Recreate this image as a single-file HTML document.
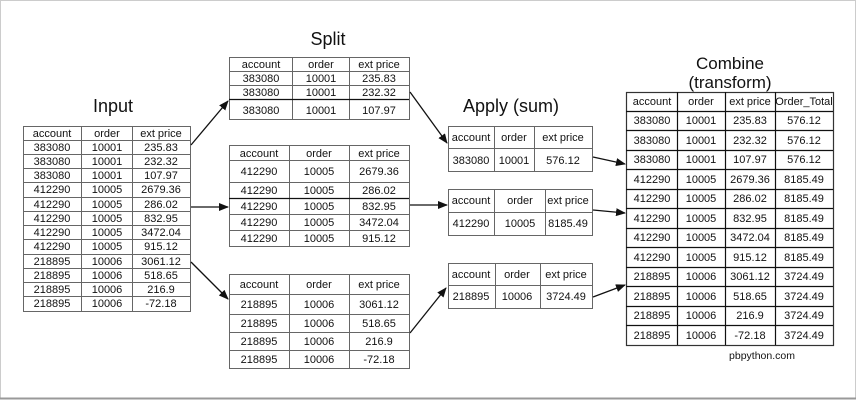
<!DOCTYPE html>
<html><head><meta charset="utf-8"><style>
html,body{margin:0;padding:0;background:#fff;}
svg{display:block;}
text{font-family:"Liberation Sans",sans-serif;font-size:11px;fill:#111;text-anchor:middle;}
.t{font-size:18px;}
.g{stroke:#666;stroke-width:1;fill:none;}
.k{stroke:#111;stroke-width:1.2;fill:none;}
</style></head><body>
<svg width="856" height="400" viewBox="0 0 856 400">
<defs><marker id="a" markerWidth="10" markerHeight="8" refX="9" refY="4" orient="auto" markerUnits="userSpaceOnUse"><path d="M0,0 L10,4 L0,8 z" fill="#111"/></marker></defs>
<rect x="0.5" y="0.5" width="855" height="398" fill="#fff" stroke="#ccc"/>
<line x1="0" y1="398.5" x2="856" y2="398.5" stroke="#999" stroke-width="2"/>

<text class="t" x="113" y="112">Input</text>
<text class="t" x="328" y="45">Split</text>
<text class="t" x="511" y="112">Apply (sum)</text>
<text class="t" x="730" y="69" style="font-size:17px">Combine</text>
<text class="t" x="730" y="88" style="font-size:17px">(transform)</text>
<text x="762" y="359" style="font-size:10.5px">pbpython.com</text>

<g>
<rect class="g" x="23.5" y="126.5" width="167" height="185"/>
<line class="g" x1="81.5" y1="126" x2="81.5" y2="311"/>
<line class="g" x1="132.5" y1="126" x2="132.5" y2="311"/>
<g class="g">
<line x1="23" y1="140.5" x2="190" y2="140.5"/><line x1="23" y1="154.5" x2="190" y2="154.5"/><line x1="23" y1="168.5" x2="190" y2="168.5"/><line x1="23" y1="182.5" x2="190" y2="182.5"/><line x1="23" y1="197.5" x2="190" y2="197.5"/><line x1="23" y1="211.5" x2="190" y2="211.5"/><line x1="23" y1="225.5" x2="190" y2="225.5"/><line x1="23" y1="239.5" x2="190" y2="239.5"/><line x1="23" y1="254.5" x2="190" y2="254.5"/><line x1="23" y1="268.5" x2="190" y2="268.5"/><line x1="23" y1="282.5" x2="190" y2="282.5"/><line x1="23" y1="296.5" x2="190" y2="296.5"/>
</g>
<g>
<text x="52" y="137">account</text><text x="107" y="137">order</text><text x="161" y="137">ext price</text>
<text x="52" y="151">383080</text><text x="107" y="151">10001</text><text x="161" y="151">235.83</text>
<text x="52" y="165">383080</text><text x="107" y="165">10001</text><text x="161" y="165">232.32</text>
<text x="52" y="179">383080</text><text x="107" y="179">10001</text><text x="161" y="179">107.97</text>
<text x="52" y="193">412290</text><text x="107" y="193">10005</text><text x="161" y="193">2679.36</text>
<text x="52" y="208">412290</text><text x="107" y="208">10005</text><text x="161" y="208">286.02</text>
<text x="52" y="222">412290</text><text x="107" y="222">10005</text><text x="161" y="222">832.95</text>
<text x="52" y="236">412290</text><text x="107" y="236">10005</text><text x="161" y="236">3472.04</text>
<text x="52" y="250">412290</text><text x="107" y="250">10005</text><text x="161" y="250">915.12</text>
<text x="52" y="265">218895</text><text x="107" y="265">10006</text><text x="161" y="265">3061.12</text>
<text x="52" y="279">218895</text><text x="107" y="279">10006</text><text x="161" y="279">518.65</text>
<text x="52" y="293">218895</text><text x="107" y="293">10006</text><text x="161" y="293">216.9</text>
<text x="52" y="307">218895</text><text x="107" y="307">10006</text><text x="161" y="307">-72.18</text>
</g></g>

<g>
<rect class="g" x="229.5" y="57.5" width="180" height="62"/>
<line class="g" x1="292.5" y1="57" x2="292.5" y2="119"/><line class="g" x1="349.5" y1="57" x2="349.5" y2="119"/>
<line class="g" x1="229" y1="71.5" x2="409" y2="71.5"/><line class="g" x1="229" y1="85.5" x2="409" y2="85.5"/><line class="k" x1="229" y1="99.5" x2="409" y2="99.5"/>
<text x="261" y="68">account</text><text x="321" y="68">order</text><text x="379" y="68">ext price</text>
<text x="261" y="82">383080</text><text x="321" y="82">10001</text><text x="379" y="82">235.83</text>
<text x="261" y="96">383080</text><text x="321" y="96">10001</text><text x="379" y="96">232.32</text>
<text x="261" y="114">383080</text><text x="321" y="114">10001</text><text x="379" y="114">107.97</text>
</g>

<g>
<rect class="g" x="229.5" y="145.5" width="180" height="101"/>
<line class="g" x1="289.5" y1="145" x2="289.5" y2="246"/><line class="g" x1="349.5" y1="145" x2="349.5" y2="246"/>
<line class="g" x1="229" y1="160.5" x2="409" y2="160.5"/><line class="g" x1="229" y1="182.5" x2="409" y2="182.5"/><line class="k" x1="229" y1="198.5" x2="409" y2="198.5"/><line class="g" x1="229" y1="214.5" x2="409" y2="214.5"/><line class="g" x1="229" y1="230.5" x2="409" y2="230.5"/>
<text x="259" y="157">account</text><text x="319" y="157">order</text><text x="379" y="157">ext price</text>
<text x="259" y="175">412290</text><text x="319" y="175">10005</text><text x="379" y="175">2679.36</text>
<text x="259" y="194">412290</text><text x="319" y="194">10005</text><text x="379" y="194">286.02</text>
<text x="259" y="210">412290</text><text x="319" y="210">10005</text><text x="379" y="210">832.95</text>
<text x="259" y="226">412290</text><text x="319" y="226">10005</text><text x="379" y="226">3472.04</text>
<text x="259" y="242">412290</text><text x="319" y="242">10005</text><text x="379" y="242">915.12</text>
</g>

<g>
<rect class="g" x="229.5" y="274.5" width="180" height="94"/>
<line class="g" x1="289.5" y1="274" x2="289.5" y2="368"/><line class="g" x1="349.5" y1="274" x2="349.5" y2="368"/>
<line class="g" x1="229" y1="294.5" x2="409" y2="294.5"/><line class="g" x1="229" y1="314.5" x2="409" y2="314.5"/><line class="g" x1="229" y1="332.5" x2="409" y2="332.5"/><line class="g" x1="229" y1="350.5" x2="409" y2="350.5"/>
<text x="259" y="288">account</text><text x="319" y="288">order</text><text x="379" y="288">ext price</text>
<text x="259" y="308">218895</text><text x="319" y="308">10006</text><text x="379" y="308">3061.12</text>
<text x="259" y="327">218895</text><text x="319" y="327">10006</text><text x="379" y="327">518.65</text>
<text x="259" y="345">218895</text><text x="319" y="345">10006</text><text x="379" y="345">216.9</text>
<text x="259" y="363">218895</text><text x="319" y="363">10006</text><text x="379" y="363">-72.18</text>
</g>

<g>
<rect class="g" x="448.5" y="126.5" width="144" height="45"/>
<line class="g" x1="494.5" y1="126" x2="494.5" y2="171"/><line class="g" x1="534.5" y1="126" x2="534.5" y2="171"/><line class="g" x1="448" y1="148.5" x2="592" y2="148.5"/>
<text x="471" y="141">account</text><text x="514" y="141">order</text><text x="563" y="141">ext price</text>
<text x="471" y="164">383080</text><text x="514" y="164">10001</text><text x="563" y="164">576.12</text>
</g>
<g>
<rect class="g" x="448.5" y="189.5" width="144" height="46"/>
<line class="g" x1="494.5" y1="189" x2="494.5" y2="235"/><line class="g" x1="545.5" y1="189" x2="545.5" y2="235"/><line class="g" x1="448" y1="212.5" x2="592" y2="212.5"/>
<text x="471" y="204">account</text><text x="520" y="204">order</text><text x="568" y="204">ext price</text>
<text x="471" y="227">412290</text><text x="520" y="227">10005</text><text x="568" y="227">8185.49</text>
</g>
<g>
<rect class="g" x="448.5" y="263.5" width="144" height="45"/>
<line class="g" x1="495.5" y1="263" x2="495.5" y2="308"/><line class="g" x1="540.5" y1="263" x2="540.5" y2="308"/><line class="g" x1="448" y1="285.5" x2="592" y2="285.5"/>
<text x="471" y="278">account</text><text x="517" y="278">order</text><text x="566" y="278">ext price</text>
<text x="471" y="300">218895</text><text x="517" y="300">10006</text><text x="566" y="300">3724.49</text>
</g>

<g>
<rect x="626.5" y="92.5" width="207" height="253" fill="none" stroke="#333" stroke-width="1.2"/>
<line class="k" x1="677.5" y1="92" x2="677.5" y2="345"/><line class="k" x1="725.5" y1="92" x2="725.5" y2="345"/><line class="k" x1="775.5" y1="92" x2="775.5" y2="345"/>
<g class="k">
<line x1="626" y1="111.5" x2="833" y2="111.5"/><line x1="626" y1="130.5" x2="833" y2="130.5"/><line x1="626" y1="150.5" x2="833" y2="150.5"/><line x1="626" y1="169.5" x2="833" y2="169.5"/><line x1="626" y1="189.5" x2="833" y2="189.5"/><line x1="626" y1="208.5" x2="833" y2="208.5"/><line x1="626" y1="228.5" x2="833" y2="228.5"/><line x1="626" y1="247.5" x2="833" y2="247.5"/><line x1="626" y1="267.5" x2="833" y2="267.5"/><line x1="626" y1="286.5" x2="833" y2="286.5"/><line x1="626" y1="306.5" x2="833" y2="306.5"/><line x1="626" y1="325.5" x2="833" y2="325.5"/>
</g>
<text x="652" y="105">account</text><text x="701" y="105">order</text><text x="750" y="105">ext price</text><text x="804" y="105">Order_Total</text>
<text x="652" y="124">383080</text><text x="701" y="124">10001</text><text x="750" y="124">235.83</text><text x="804" y="124">576.12</text>
<text x="652" y="144">383080</text><text x="701" y="144">10001</text><text x="750" y="144">232.32</text><text x="804" y="144">576.12</text>
<text x="652" y="163">383080</text><text x="701" y="163">10001</text><text x="750" y="163">107.97</text><text x="804" y="163">576.12</text>
<text x="652" y="183">412290</text><text x="701" y="183">10005</text><text x="750" y="183">2679.36</text><text x="804" y="183">8185.49</text>
<text x="652" y="202">412290</text><text x="701" y="202">10005</text><text x="750" y="202">286.02</text><text x="804" y="202">8185.49</text>
<text x="652" y="222">412290</text><text x="701" y="222">10005</text><text x="750" y="222">832.95</text><text x="804" y="222">8185.49</text>
<text x="652" y="241">412290</text><text x="701" y="241">10005</text><text x="750" y="241">3472.04</text><text x="804" y="241">8185.49</text>
<text x="652" y="261">412290</text><text x="701" y="261">10005</text><text x="750" y="261">915.12</text><text x="804" y="261">8185.49</text>
<text x="652" y="280">218895</text><text x="701" y="280">10006</text><text x="750" y="280">3061.12</text><text x="804" y="280">3724.49</text>
<text x="652" y="300">218895</text><text x="701" y="300">10006</text><text x="750" y="300">518.65</text><text x="804" y="300">3724.49</text>
<text x="652" y="319">218895</text><text x="701" y="319">10006</text><text x="750" y="319">216.9</text><text x="804" y="319">3724.49</text>
<text x="652" y="339">218895</text><text x="701" y="339">10006</text><text x="750" y="339">-72.18</text><text x="804" y="339">3724.49</text>
</g>

<g stroke="#111" stroke-width="1.3" fill="none" marker-end="url(#a)">
<line x1="191" y1="145" x2="228" y2="101"/>
<line x1="191" y1="207" x2="228" y2="207"/>
<line x1="191" y1="262" x2="228" y2="299"/>
<line x1="410" y1="92" x2="447" y2="143"/>
<line x1="410" y1="205" x2="447" y2="205"/>
<line x1="410" y1="333" x2="446" y2="288"/>
<line x1="593" y1="157" x2="625" y2="164"/>
<line x1="593" y1="210" x2="625" y2="213"/>
<line x1="593" y1="297" x2="625" y2="285"/>
</g>
</svg>
</body></html>
